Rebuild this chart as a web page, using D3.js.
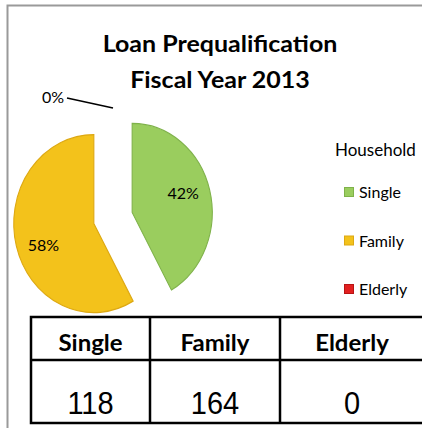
<!DOCTYPE html>
<html lang="en">
<head>
<meta charset="utf-8">
<title>Loan Prequalification</title>
<script src="https://cdn.jsdelivr.net/npm/d3@7"></script>
<style>
  body { margin: 0; background: #fff; }
  svg text { fill: #000; }
  .cal { font-family: Lato, "Open Sans", sans-serif; }
  .ari { font-family: "Liberation Sans", Arial, sans-serif; }
</style>
</head>
<body>
<script>
// data
var categories = ["Single", "Family", "Elderly"];
var counts = [118, 164, 0];
var colors = ["#9ACD5E", "#F3C21B", "#E22020"];
var edgeColors = ["#7FB24A", "#DDA812", "#B81414"];
var titleLines = ["Loan Prequalification", "Fiscal Year 2013"];
var legendTitle = "Household";

var w = 422, h = 428;

var svg = d3.select("body").append("svg")
  .attr("width", w).attr("height", h);

// text helper; sy stretches the glyphs vertically like the original
function txt(x, y, s, cls, size, weight, anchor, sy) {
  return svg.append("text")
    .attr("class", cls)
    .attr("transform", "translate(" + x + "," + y + ") scale(1," + (sy || 1) + ")")
    .attr("font-size", size)
    .attr("font-weight", weight || "normal")
    .attr("text-anchor", anchor || "start")
    .text(s);
}

// frame
svg.append("path")
  .attr("d", "M7.5," + h + "V5.5H" + w)
  .attr("fill", "none").attr("stroke", "#9a9a9a").attr("stroke-width", 2);

// title
titleLines.forEach(function (t, i) {
  txt(220, 52 + i * 36, t, "cal", 25, "bold", "middle", 0.95);
});

// pie
var cx = 113, cy = 218, r = 89, sx = 0.9, explode = 22;
var total = d3.sum(counts);
var pct = d3.format(".0%");
var arcs = d3.pie().sort(null).value(function (d) { return d; })(counts);
var arc = d3.arc().innerRadius(0).outerRadius(r);

arcs.forEach(function (a, i) {
  if (a.value === 0) return;
  var mid = (a.startAngle + a.endAngle) / 2;
  var ox = explode * Math.sin(mid) * sx, oy = -explode * Math.cos(mid);
  var g = svg.append("g")
    .attr("transform", "translate(" + (cx + ox) + "," + (cy + oy) + ") scale(" + sx + ",1)");
  g.append("path")
    .attr("d", arc(a))
    .attr("fill", colors[i])
    .attr("stroke", edgeColors[i]).attr("stroke-width", 1.2);

  var la = a.startAngle + 0.47 * (a.endAngle - a.startAngle), lr = 60;
  txt(cx + ox + sx * lr * Math.sin(la), cy + oy - lr * Math.cos(la) + 6,
      pct(a.value / total), "cal", 16, "normal", "middle");
});

// zero slice label with leader line
arcs.forEach(function (a) {
  if (a.value !== 0) return;
  var x0 = cx + sx * (r + 21) * Math.sin(a.startAngle);
  var y0 = cy - (r + 21) * Math.cos(a.startAngle);
  var x1 = x0 - 46, y1 = y0 - 10;
  svg.append("line")
    .attr("x1", x0).attr("y1", y0).attr("x2", x1).attr("y2", y1)
    .attr("stroke", "#000").attr("stroke-width", 1.5);
  txt(x1 - 3, y1 + 5, pct(a.value / total), "cal", 16, "normal", "end");
});

// legend
txt(335, 156, legendTitle, "cal", 17);
var ly = d3.scalePoint().domain(categories).range([198, 295]);
categories.forEach(function (c, i) {
  svg.append("rect")
    .attr("x", 344.5).attr("y", ly(c) - 10.5).attr("width", 9).attr("height", 9)
    .attr("fill", colors[i])
    .attr("stroke", edgeColors[i]).attr("stroke-width", 1);
  txt(359, ly(c), c, "cal", 16);
});

// table
var colX = [31, 150, 280, 424];
var rowY = [317, 360, 423];
svg.append("rect")
  .attr("x", colX[0]).attr("y", rowY[0])
  .attr("width", colX[3] - colX[0]).attr("height", rowY[2] - rowY[0])
  .attr("fill", "none").attr("stroke", "#000").attr("stroke-width", 2.5);
svg.append("line")
  .attr("x1", colX[0]).attr("x2", colX[3]).attr("y1", rowY[1]).attr("y2", rowY[1])
  .attr("stroke", "#000").attr("stroke-width", 2.5);
[colX[1], colX[2]].forEach(function (x) {
  svg.append("line")
    .attr("x1", x).attr("x2", x).attr("y1", rowY[0]).attr("y2", rowY[2])
    .attr("stroke", "#000").attr("stroke-width", 2.5);
});
categories.forEach(function (c, i) {
  var mx = (colX[i] + colX[i + 1]) / 2;
  txt(mx, 351, c, "cal", 24, "bold", "middle", 0.95);
  txt(mx, 414, counts[i], "ari", 29, "normal", "middle", 1.05);
});
</script>
</body>
</html>
